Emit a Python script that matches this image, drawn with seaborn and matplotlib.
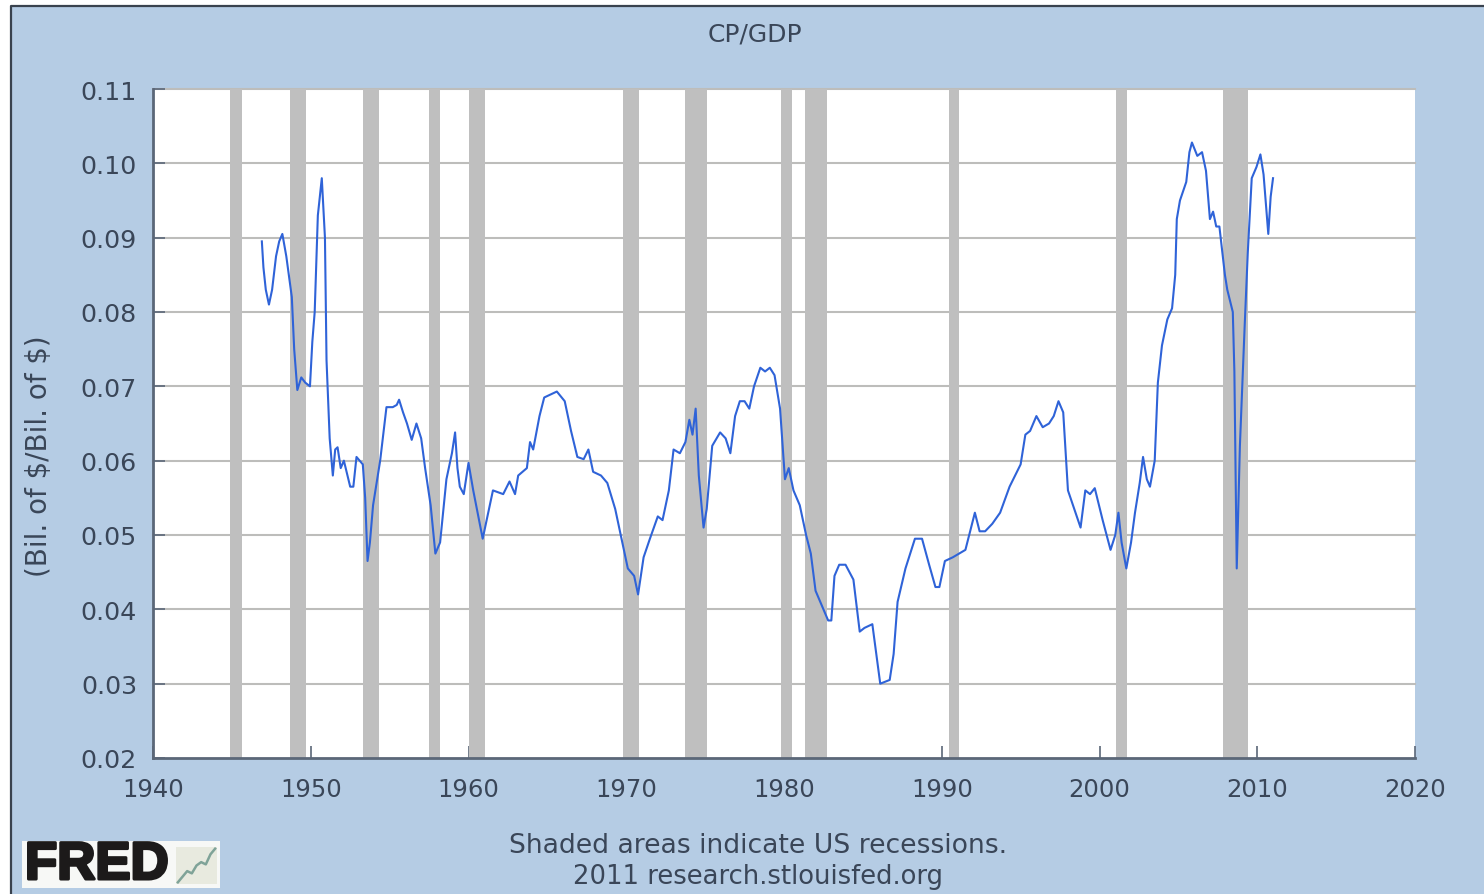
import matplotlib
matplotlib.use("Agg")
import pandas as pd
import seaborn as sns
from matplotlib import patheffects
from matplotlib import pyplot as plt
from matplotlib.lines import Line2D
from matplotlib.patches import Rectangle

W, H = 1484, 895

years = [1946.9, 1947.0, 1947.15, 1947.35, 1947.55, 1947.8, 1948.0, 1948.2, 1948.45, 1948.8,
         1948.95, 1949.15, 1949.4, 1949.65, 1949.95, 1950.1, 1950.25, 1950.45, 1950.7, 1950.9,
         1951.0, 1951.2, 1951.4, 1951.55, 1951.7, 1951.9, 1952.1, 1952.5, 1952.7, 1952.9,
         1953.3, 1953.45, 1953.6, 1953.75, 1953.95, 1954.4, 1954.8, 1955.2, 1955.45, 1955.6,
         1955.85, 1956.1, 1956.4, 1956.7, 1957.0, 1957.25, 1957.6, 1957.9, 1958.2, 1958.6,
         1958.95, 1959.15, 1959.3, 1959.45, 1959.7, 1960.0, 1960.3, 1960.9, 1961.2, 1961.55,
         1962.2, 1962.6, 1962.95, 1963.15, 1963.7, 1963.9, 1964.1, 1964.5, 1964.8, 1965.1,
         1965.6, 1966.1, 1966.5, 1966.9, 1967.3, 1967.6, 1967.9, 1968.4, 1968.8, 1969.3,
         1969.7, 1970.1, 1970.5, 1970.75, 1971.1, 1971.5, 1972.0, 1972.3, 1972.7, 1973.0,
         1973.4, 1973.75, 1974.0, 1974.2, 1974.4, 1974.6, 1974.9, 1975.1, 1975.45, 1975.95,
         1976.3, 1976.6, 1976.9, 1977.2, 1977.5, 1977.8, 1978.1, 1978.5, 1978.8, 1979.1,
         1979.4, 1979.75, 1980.06, 1980.3, 1980.6, 1981.0, 1981.4, 1981.7, 1982.0, 1982.3,
         1982.8, 1983.0, 1983.2, 1983.5, 1983.9, 1984.4, 1984.8, 1985.1, 1985.6, 1985.85,
         1986.1, 1986.7, 1986.95, 1987.2, 1987.7, 1988.3, 1988.75, 1989.2, 1989.6, 1989.85,
         1990.2, 1990.7, 1991.5, 1992.1, 1992.4, 1992.75, 1993.2, 1993.7, 1994.3, 1995.0,
         1995.3, 1995.6, 1996.0, 1996.4, 1996.8, 1997.1, 1997.4, 1997.7, 1998.0, 1998.4,
         1998.8, 1999.1, 1999.4, 1999.7, 2000.2, 2000.7, 2001.0, 2001.2, 2001.4, 2001.7,
         2002.0, 2002.25, 2002.55, 2002.76, 2003.0, 2003.2, 2003.5, 2003.7, 2003.96, 2004.3,
         2004.6, 2004.8, 2004.9, 2005.1, 2005.5, 2005.7, 2005.86, 2006.2, 2006.5, 2006.75,
         2007.0, 2007.2, 2007.4, 2007.6, 2007.95, 2008.1, 2008.45, 2008.55, 2008.7, 2008.9,
         2009.2, 2009.4, 2009.65, 2009.95, 2010.2, 2010.4, 2010.7, 2010.85, 2011.0]
cp_gdp = [.0895, .0860, .0830, .0810, .0830, .0875, .0895, .0905, .0875, .0820,
          .0750, .0695, .0712, .0705, .0700, .0760, .0800, .0930, .0980, .0900,
          .0735, .0630, .0580, .0615, .0618, .0590, .0600, .0565, .0565, .0605,
          .0595, .0550, .0465, .0490, .0540, .0600, .0672, .0672, .0675, .0682,
          .0665, .0650, .0628, .0650, .0630, .0590, .0540, .0475, .0490, .0575,
          .0610, .0638, .0590, .0565, .0555, .0597, .0560, .0495, .0525, .0560,
          .0555, .0572, .0555, .0580, .0590, .0625, .0615, .0660, .0685, .0688,
          .0693, .0680, .0640, .0605, .0602, .0615, .0585, .0580, .0570, .0535,
          .0495, .0455, .0445, .0420, .0470, .0495, .0525, .0520, .0560, .0615,
          .0610, .0625, .0655, .0635, .0670, .0580, .0510, .0535, .0620, .0638,
          .0630, .0610, .0660, .0680, .0680, .0670, .0700, .0725, .0720, .0725,
          .0715, .0670, .0575, .0590, .0560, .0540, .0500, .0475, .0425, .0410,
          .0385, .0385, .0445, .0460, .0460, .0440, .0370, .0375, .0380, .0340,
          .0300, .0305, .0340, .0410, .0455, .0495, .0495, .0460, .0430, .0430,
          .0465, .0470, .0480, .0530, .0505, .0505, .0515, .0530, .0565, .0595,
          .0635, .0640, .0660, .0645, .0650, .0660, .0680, .0665, .0560, .0535,
          .0510, .0560, .0555, .0563, .0520, .0480, .0500, .0530, .0490, .0455,
          .0490, .0530, .0570, .0605, .0575, .0565, .0600, .0705, .0755, .0790,
          .0805, .0850, .0925, .0950, .0975, .1015, .1028, .1010, .1015, .0990,
          .0925, .0935, .0915, .0915, .0850, .0830, .0800, .0720, .0455, .0620,
          .0780, .0880, .0980, .0995, .1012, .0985, .0905, .0955, .0980]

recession_start = [1944.9, 1948.7, 1953.3, 1957.5, 1960.0, 1969.8, 1973.7, 1979.8, 1981.3, 1990.45, 2001.05, 2007.85]
recession_end = [1945.65, 1949.7, 1954.3, 1958.2, 1961.05, 1970.8, 1975.1, 1980.5, 1982.7, 1991.1, 2001.75, 2009.4]

x_ticks = [1940, 1950, 1960, 1970, 1980, 1990, 2000, 2010, 2020]
y_ticks = [0.02, 0.03, 0.04, 0.05, 0.06, 0.07, 0.08, 0.09, 0.10, 0.11]

# small trend line inside the FRED logo
logo_x = [0, 1, 2, 3, 4, 5, 6, 7, 8]
logo_y = [1, 2, 3, 2.6, 4, 4.6, 4.2, 6, 7]

text_col = "#3a4658"
axis_col = "#5b6778"

df = pd.DataFrame({"year": years, "cp_gdp": cp_gdp})

fig = plt.figure(figsize=(W / 100, H / 100), dpi=100, facecolor="white")
# figure level artists go under the axes
fig.add_artist(Rectangle((11 / W, 0), 1 - 11 / W, 1 - 7 / H, transform=fig.transFigure,
                         facecolor="#b5cce4", edgecolor="none", zorder=-3))
fig.add_artist(Line2D([10.5 / W, 10.5 / W, 1], [0, 1 - 6.5 / H, 1 - 6.5 / H], color="#39424e",
                      lw=1.6, zorder=-2))
fig.add_artist(Rectangle((22 / W, 1 - 889 / H), 198 / W, 47 / H, transform=fig.transFigure,
                         facecolor="#f7f8f6", edgecolor="none", zorder=-2))

ax = fig.add_axes([153 / W, 1 - 759 / H, (1415 - 153) / W, (759 - 90) / H])
ax.set_facecolor("white")

# grid first, recessions on top, then the series
for y in y_ticks[1:]:
    ax.axhline(y, color="#bdbdbb", lw=1.5, zorder=1, clip_on=False)
for a, b in zip(recession_start, recession_end):
    ax.axvspan(a, b, color="#bfbfbf", lw=0, zorder=2)

sns.lineplot(data=df, x="year", y="cp_gdp", ax=ax, color="#2f63d8", lw=1.5, zorder=3,
             estimator=None, sort=False)

ax.set_xlim(1940, 2020)
ax.set_ylim(0.02, 0.11)
ax.set_xticks(x_ticks)
ax.set_yticks(y_ticks)
ax.set_yticklabels([f"{v:.2f}" for v in y_ticks])
ax.tick_params(axis="x", direction="in", length=8.5, width=1.2, color=axis_col, pad=14,
               labelsize=17.5, labelcolor=text_col)
ax.tick_params(axis="y", direction="in", length=8.5, width=1.2, color=axis_col, pad=11.5,
               labelsize=18.3, labelcolor=text_col)
ax.set_xlabel("")
ax.set_ylabel("")
for side in ["top", "right"]:
    ax.spines[side].set_visible(False)
for side in ["left", "bottom"]:
    ax.spines[side].set_color(axis_col)
    ax.spines[side].set_linewidth(2)

fig.text(755 / W, 1 - 34 / H, "CP/GDP", ha="center", va="center", fontsize=18, color=text_col)
fig.text(39 / W, 1 - 456 / H, "(Bil. of \\$/Bil. of \\$)", ha="center", va="center", rotation=90,
         fontsize=20, color=text_col)
fig.text(758 / W, 1 - 846 / H, "Shaded areas indicate US recessions.", ha="center", va="center",
         fontsize=19.2, color=text_col)
fig.text(758 / W, 1 - 877 / H, "2011 research.stlouisfed.org", ha="center", va="center",
         fontsize=18.6, color=text_col)

# FRED logo
fig.text(25 / W, 1 - 866 / H, "FRED", ha="left", va="center", fontsize=38, weight="black",
         color="#1c1a1a", family="Liberation Sans",
         path_effects=[patheffects.withStroke(linewidth=2.2, foreground="#1c1a1a")])
logo_ax = fig.add_axes([176 / W, 1 - 885 / H, 41 / W, 37 / H])
logo_ax.add_patch(Rectangle((0, 0), 1, 1, transform=logo_ax.transAxes, facecolor="#e8eadf",
                            edgecolor="none", zorder=0))
sns.lineplot(x=logo_x, y=logo_y, ax=logo_ax, color="#7fa398", lw=1.8)
logo_ax.set_axis_off()

fig.savefig("out.png", dpi=100, facecolor=fig.get_facecolor())
